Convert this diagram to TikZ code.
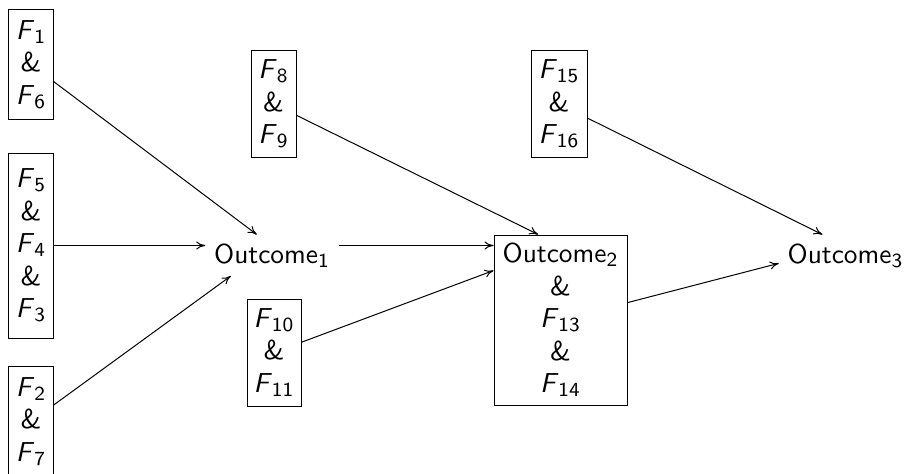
\documentclass[tikz,border=0pt]{standalone}
\usetikzlibrary{intersections,arrows.meta}
\newcommand\fac[2]{\textit{#1}\textsubscript{#2}}
\begin{document}
\begin{tikzpicture}[x=0.4pt,y=-0.4pt,
  every node/.style={font=\fontsize{10.95}{13}\selectfont\sffamily},
  box/.style={draw, align=center, inner sep=0pt},
  outc/.style={anchor=base},
  arr/.style={-{Computer Modern Rightarrow[length=3.6pt,width=3.2pt]}}]
\useasboundingbox (0,0) rectangle (906,473);
% factor boxes
\node[box, minimum width=17.6pt, minimum height=44pt] (b1) at (31,64.5) {\fac{F}{1}\\ \&\\ \fac{F}{6}};
\node[box, minimum width=17.6pt, minimum height=74pt] (b2) at (31,245.5) {\fac{F}{5}\\ \&\\ \fac{F}{4}\\ \&\\ \fac{F}{3}};
\node[box, minimum width=17.6pt, minimum height=44pt] (b3) at (31,421.5) {\fac{F}{2}\\ \&\\ \fac{F}{7}};
\node[box, minimum width=18pt, minimum height=42.4pt] (b8) at (273.5,104) {\fac{F}{8}\\ \&\\ \fac{F}{9}};
\node[box, minimum width=21.6pt, minimum height=42.8pt] (b10) at (274,352.5) {\fac{F}{10}\\ \&\\ \fac{F}{11}};
\node[box, minimum width=22.4pt, minimum height=42.4pt] (b15) at (559,104) {\fac{F}{15}\\ \&\\ \fac{F}{16}};
% outcomes
\node[outc] (o1) at (272,263) {Outcome\textsubscript{1}};
\node[box, minimum width=53.2pt, minimum height=68pt] (o2) at (560.5,320) {Outcome\textsubscript{2}\\ \&\\ \fac{F}{13}\\ \&\\ \fac{F}{14}};
\node[outc] (o3) at (845.5,263) {Outcome\textsubscript{3}};
% aim points and borders
\coordinate (o1c) at ([yshift=6.8pt]o1.base);
\coordinate (o2c) at ([yshift=-4.4pt]o2.north);
\coordinate (o3c) at ([yshift=6.8pt]o3.base);
\path[name path=o1p] (o1.south west) rectangle (o1.north east);
\path[name path=o2p] (o2.south west) rectangle (o2.north east);
\path[name path=o3p] (o3.south west) rectangle (o3.north east);
% connectors
\path[name path=l1] (b1) -- (o1c);
\draw[arr, name intersections={of=l1 and o1p, by=e1}] (b1) -- (e1);
\draw[arr] (b2) -- (b2 -| o1.west);
\path[name path=l3] (b3) -- (o1c);
\draw[arr, name intersections={of=l3 and o1p, by=e3}] (b3) -- (e3);
\draw[arr] (o1.east |- o2c) -- (o2.west |- o2c);
\path[name path=l5] (b8) -- (o2c);
\draw[arr, name intersections={of=l5 and o2p, by=e5}] (b8) -- (e5);
\path[name path=l6] (b10) -- (o2c);
\draw[arr, name intersections={of=l6 and o2p, by=e6}] (b10) -- (e6);
\path[name path=l7] (o2) -- (o3c);
\draw[arr, name intersections={of=l7 and o3p, by=e7}] (o2) -- (e7);
\path[name path=l8] (b15) -- (o3c);
\draw[arr, name intersections={of=l8 and o3p, by=e8}] (b15) -- (e8);
\end{tikzpicture}
\end{document}
